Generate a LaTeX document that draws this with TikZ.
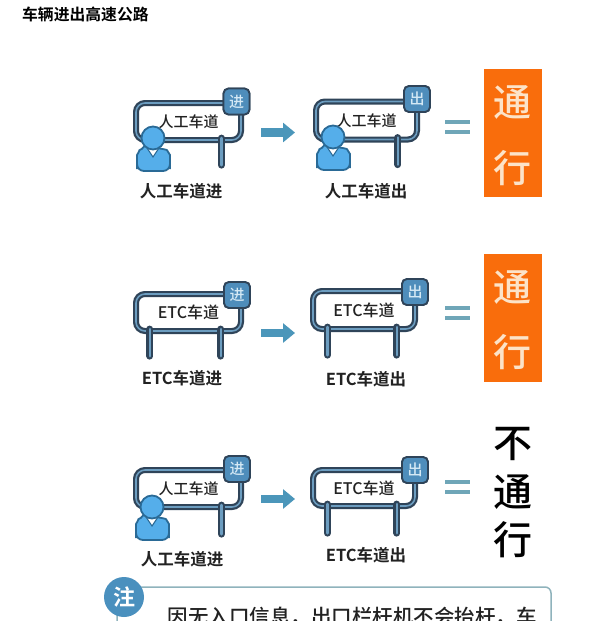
\documentclass[tikz,border=0pt]{standalone}
\usepackage{fontspec}
\setmainfont{Noto Sans CJK SC}[BoldFont={Noto Sans CJK SC Bold}]
\newfontfamily\medfont{Noto Sans CJK SC Medium}
\usetikzlibrary{arrows.meta,calc}
\definecolor{frameDark}{HTML}{2F4459}
\definecolor{frameBlue}{HTML}{6C9DC0}
\definecolor{badgeBlue}{HTML}{4E8DBB}
\definecolor{badgeText}{HTML}{D5E9F5}
\definecolor{personBlue}{HTML}{55AEEA}
\definecolor{personLine}{HTML}{2A6A96}
\definecolor{arrowBlue}{HTML}{4B96BA}
\definecolor{eqBlue}{HTML}{6FA6B8}
\definecolor{passOrange}{HTML}{F96D0C}
\definecolor{passText}{HTML}{FCE3C8}
\definecolor{noteLine}{HTML}{8FB3BC}
\definecolor{noteBlue}{HTML}{4A90BE}
\definecolor{textDark}{HTML}{222222}
\newcommand{\fsz}[1]{\fontsize{#1}{#1}\selectfont}
\tikzset{
  x=1pt,y=-1pt,
  signbox/.style={draw=frameDark,line width=2.2pt,double=frameBlue,double distance=1.6pt,
    fill=white,rounded corners=9pt,inner sep=0pt,text=textDark,font=\medfont\fsz{15}},
  badge/.style={draw=frameDark,line width=1.8pt,fill=badgeBlue,rounded corners=5pt,
    minimum width=26pt,minimum height=26pt,inner sep=0pt,text=badgeText,font=\medfont\fsz{15}},
  postouter/.style={draw=frameDark,line width=7pt,line cap=round},
  postinner/.style={draw=frameBlue,line width=2.8pt,line cap=round},
  caption/.style={text=textDark,font=\bfseries\fsz{16.5},inner sep=0pt},
  flow/.style={draw=arrowBlue,line width=8.5pt,-{Triangle[length=12pt,width=19pt]}},
  eqbar/.style={draw=eqBlue,line width=3.8pt},
  passbox/.style={fill=passOrange,minimum width=58pt,minimum height=128pt,inner sep=0pt},
  passchar/.style={text=passText,font=\medfont\fsz{38},inner sep=0pt},
  blackchar/.style={text=black,font=\medfont\fsz{39},inner sep=0pt},
  head/.style={circle,draw=personLine,line width=1.8pt,fill=personBlue,minimum size=23pt,inner sep=0pt},
  body/.style={draw=personLine,line width=1.8pt,fill=personBlue,rounded corners=7pt},
  collar/.style={draw=personLine,line width=1.1pt,fill=white},
}
% name, cx, cy, w, h, label, badge text, badge x, badge y
\newcommand{\signpanel}[9]{%
  \node[signbox,minimum width=#4pt,minimum height=#5pt] (#1) at (#2,#3) {#6};
  \node[badge] (#1b) at (#8,#9) {#7};
}
% sign name, offset from sign's left edge, length
\newcommand{\signpost}[3]{%
  \coordinate (p1) at ($(#1.south west)+(#2,-3)$);
  \coordinate (p2) at ($(#1.south west)+(#2,#3)$);
  \draw[postouter] (p1) -- (p2);
  \draw[postinner] (p1) -- (p2);
}
% name, head x, head y
\newcommand{\personfig}[3]{%
  \begin{scope}[shift={(#2,#3)}]
    \path[body] (-7,10) -- (7,10) .. controls (14,12) and (17,17) .. (17,24) -- (17,33) -- (-16,33) -- (-16,24) .. controls (-16,17) and (-13,12) .. (-7,10) -- cycle;
    \path[collar] (-6,10) -- (6,10) -- (0,19) -- cycle;
    \node[head] (#1) at (0,0) {};
  \end{scope}
}
\newcommand{\flowarrow}[4]{%
  \coordinate (#1s) at (#2,#4);
  \coordinate (#1e) at (#3,#4);
  \draw[flow] (#1s) -- (#1e);
}
\newcommand{\equalmark}[3]{%
  \coordinate (#1a) at (445,#2);
  \coordinate (#1b) at (470,#2);
  \coordinate (#1c) at (445,#3);
  \coordinate (#1d) at (470,#3);
  \draw[eqbar] (#1a) -- (#1b);
  \draw[eqbar] (#1c) -- (#1d);
}
\begin{document}
\begin{tikzpicture}
\useasboundingbox (0,0) rectangle (600,621);
\clip (0,0) rectangle (600,621);
\fill[white] (0,0) rectangle (600,621);
\node[anchor=west,inner sep=0pt,text=black,font=\bfseries\fsz{15.8}] (title) at (22,14) {车辆进出高速公路};

% row 1
\signpanel{sa}{188.5}{121.5}{105}{37}{人工车道}{进}{236.5}{101.5}
\signpost{sa}{86.5}{24}
\node[badge] at (sab) {进};
\personfig{pa}{153}{138}
\node[caption] (ca) at (181,191) {人工车道进};
\flowarrow{fa}{261}{295}{132.5}
\signpanel{sb}{366.5}{120.5}{101}{38}{人工车道}{出}{417}{99}
\signpost{sb}{83}{24}
\node[badge] at (sbb) {出};
\personfig{pb}{333}{137}
\node[caption] (cb) at (366,191) {人工车道出};
\equalmark{ea}{122}{132}
\node[passbox] (oa) at (513,133) {};
\node[passchar] (oat) at (512,102) {通};
\node[passchar] (oah) at (512,168) {行};

% row 2
\signpanel{sc}{188.5}{312.5}{105}{37}{\fsz{16}ETC车道}{进}{237}{295}
\signpost{sc}{15}{24}
\signpost{sc}{86}{24}
\node[badge] at (scb) {进};
\node[caption] (cc) at (182,378) {ETC车道进};
\flowarrow{fb}{261}{295}{333}
\signpanel{sd}{364}{310}{102}{38}{\fsz{16}ETC车道}{出}{415}{292}
\signpost{sd}{15.5}{25}
\signpost{sd}{85}{25}
\node[badge] at (sdb) {出};
\node[caption] (cd) at (366,379) {ETC车道出};
\equalmark{eb}{308}{318}
\node[passbox] (ob) at (513,318) {};
\node[passchar] (obt) at (512,287) {通};
\node[passchar] (obh) at (512,352) {行};

% row 3
\signpanel{se}{188.5}{488.5}{105}{37}{人工车道}{进}{237}{469}
\signpost{se}{86.5}{26}
\node[badge] at (seb) {进};
\personfig{pe}{152}{507}
\node[caption] (ce) at (182,559) {人工车道进};
\flowarrow{fc}{261}{295}{499}
\signpanel{sf}{364}{488}{102}{36}{\fsz{16}ETC车道}{出}{415}{470}
\signpost{sf}{15.5}{26}
\signpost{sf}{85}{26}
\node[badge] at (sfb) {出};
\node[caption] (cf) at (366,555) {ETC车道出};
\equalmark{ec}{482}{492}
\node[blackchar] (ba) at (513,444) {不};
\node[blackchar] (bb) at (513,492) {通};
\node[blackchar] (bc) at (513,540) {行};

% note
\draw[noteLine,line width=1.5pt,rounded corners=6pt] (117,640) -- (117,587) -- (551,587) -- (551,640);
\node[circle,fill=noteBlue,minimum size=40pt,inner sep=0pt,text=white,font=\bfseries\fsz{22}] (note) at (124,597) {注};
\node[inner sep=0pt,text=textDark,font=\medfont\fsz{20.5},anchor=center] (notet) at (352,617) {因无入口信息，出口栏杆机不会抬杆，车};
\end{tikzpicture}
\end{document}
